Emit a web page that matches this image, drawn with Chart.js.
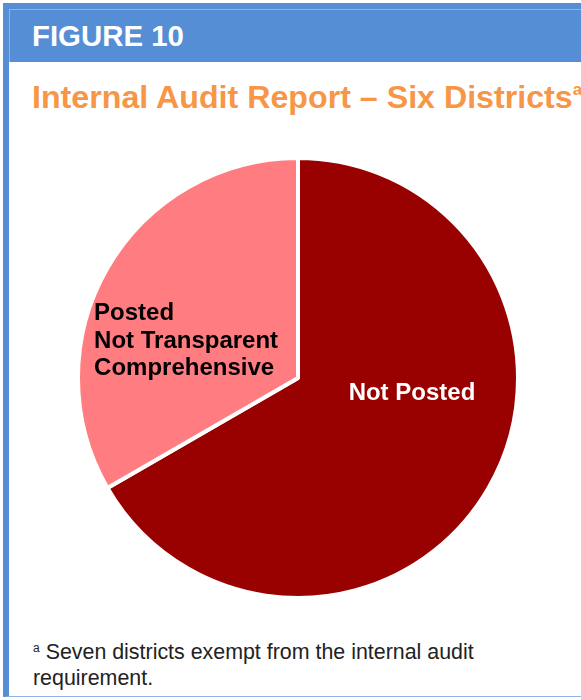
<!DOCTYPE html>
<html>
<head>
<meta charset="utf-8">
<script src="https://cdn.jsdelivr.net/npm/chart.js@4/dist/chart.umd.min.js"></script>
<style>
  body { margin: 0; background: #fff; width: 581px; height: 700px; overflow: hidden; position: relative;
         font-family: "Liberation Sans", Arial, sans-serif; }
  .frame { position: absolute; left: 3px; top: 3px; width: 640px; height: 693px; background: #fff;
           border-left: 6px solid #558ED5; border-bottom: 1px solid #8EB4E3; }
  .header { position: absolute; left: 3px; top: 3px; width: 646px; height: 59px; background: #558ED5; }
  .header .inner { position: absolute; left: 6px; top: 6px; right: 0; bottom: 0;
                   border-top: 1px solid #8EB4E3; border-left: 1px solid #8EB4E3; }
  .fig { position: absolute; left: 32px; top: 21px; color: #fff; font-weight: bold; font-size: 29.4px; line-height: 29px; white-space: nowrap; }
  .title { position: absolute; left: 32px; top: 81px; color: #F79646; font-weight: bold; font-size: 32.2px; line-height: 32px; white-space: nowrap; }
  .title sup { font-size: 17px; vertical-align: 13px; line-height: 0; }
  .note { position: absolute; left: 33px; top: 639px; color: #222; font-size: 21.4px; line-height: 26px; width: 480px; }
  .note sup { font-size: 12px; vertical-align: 7px; line-height: 0; }
  #pie { position: absolute; left: 76px; top: 156px; }
</style>
</head>
<body>
<div class="frame"></div>
<div class="header"><div class="inner"></div></div>
<div class="fig">FIGURE 10</div>
<div class="title">Internal Audit Report – Six Districts<sup>a</sup></div>
<canvas id="pie" width="444" height="444"></canvas>
<div class="note"><sup>a</sup> Seven districts exempt from the internal audit requirement.</div>

<script>
// Data: number of districts in each group
var categories = ['Not Posted', 'Posted Not Transparent Comprehensive'];
var districtCounts = [4, 2];
var sliceLabels = [['Not Posted'], ['Posted', 'Not Transparent', 'Comprehensive']];
var sliceColors = ['#990000', '#FF7C80'];
var labelColors = ['#ffffff', '#000000'];

// Draws the text labels inside the slices, placed relative to the arc centre/radius
var sliceLabelPlugin = {
  id: 'sliceLabels',
  afterDatasetsDraw(chart) {
    var ctx = chart.ctx;
    var meta = chart.getDatasetMeta(0);
    // anchor of middle line baseline (fraction of radius from centre), alignment
    var anchors = [
      { fx: 0.518, fy: 0.10, align: 'center' },
      { fx: -0.927, fy: -0.138, align: 'left' }
    ];
    var lineH = 27.5;
    ctx.save();
    ctx.font = 'bold 24px "Liberation Sans", Arial, sans-serif';
    ctx.textBaseline = 'alphabetic';
    meta.data.forEach(function (arc, i) {
      var r = arc.outerRadius;
      var a = anchors[i];
      var lines = sliceLabels[i];
      var x = arc.x + a.fx * r;
      var y = arc.y + a.fy * r - (lines.length - 1) / 2 * lineH;
      ctx.fillStyle = labelColors[i];
      ctx.textAlign = a.align;
      lines.forEach(function (t, k) { ctx.fillText(t, x, y + k * lineH); });
    });
    ctx.restore();
  }
};

new Chart(document.getElementById('pie'), {
  type: 'pie',
  data: {
    labels: categories,
    datasets: [{
      data: districtCounts,
      backgroundColor: sliceColors,
      borderColor: '#ffffff',
      borderWidth: 4
    }]
  },
  options: {
    responsive: false,
    animation: false,
    layout: { padding: 0 },
    plugins: { legend: { display: false }, tooltip: { enabled: false } }
  },
  plugins: [sliceLabelPlugin]
});
</script>
</body>
</html>
